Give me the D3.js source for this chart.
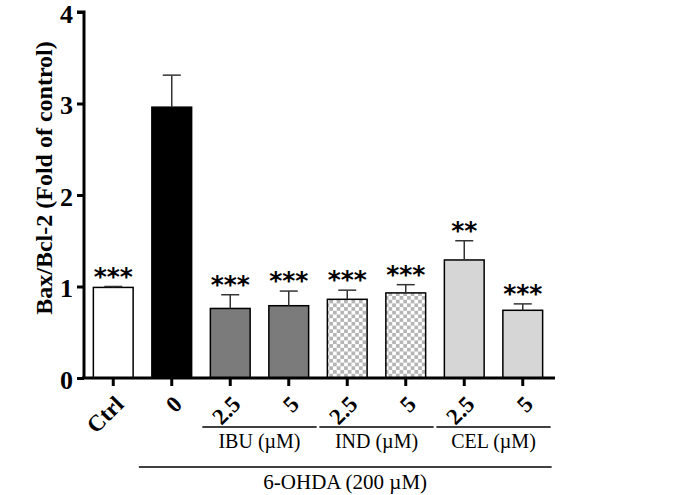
<!DOCTYPE html>
<html><head><meta charset="utf-8">
<script src="https://cdn.jsdelivr.net/npm/d3@7"></script>
<style>body{margin:0;background:#fff}</style>
</head><body>
<svg id="c" width="699" height="495"></svg>
<script>
const categories = ["Ctrl","0","2.5","5","2.5","5","2.5","5"];
const keys = ["ctrl","ohda","ibu25","ibu5","ind25","ind5","cel25","cel5"];
const means = [0.99, 2.96, 0.76, 0.79, 0.86, 0.93, 1.29, 0.74];
const errors = [0.01, 0.35, 0.15, 0.16, 0.10, 0.09, 0.21, 0.07];
const stars = ["***","","***","***","***","***","**","***"];
const fills = ["#ffffff","#000000","#7b7b7b","#7b7b7b","url(#chk)","url(#chk)","#d6d6d6","#d6d6d6"];
const yTicks = [0,1,2,3,4];
const groups = [{label:"IBU (\u00b5M)", from:2, to:3},{label:"IND (\u00b5M)", from:4, to:5},{label:"CEL (\u00b5M)", from:6, to:7}];
const treatment = {label:"6-OHDA (200 \u00b5M)", from:1, to:7};

const svg = d3.select("#c");
const defs = svg.append("defs");
const p = defs.append("pattern").attr("id","chk").attr("patternUnits","userSpaceOnUse").attr("width",7.4).attr("height",7.4);
p.append("rect").attr("width",7.4).attr("height",7.4).attr("fill","#ffffff");
p.append("rect").attr("width",3.7).attr("height",3.7).attr("fill","#b5b5b5");
p.append("rect").attr("x",3.7).attr("y",3.7).attr("width",3.7).attr("height",3.7).attr("fill","#b5b5b5");

const x0 = 84, x1 = 552, yBase = 378, yTop = 12;
const x = d3.scaleBand().domain(keys).range([x0, x1]).paddingInner(0.32).paddingOuter(0.16);
const y = d3.scaleLinear().domain([0,4]).range([yBase, yTop]);
const font = "'Liberation Serif','Times New Roman',serif";

const g = svg.append("g");
g.selectAll("rect.bar").data(keys).enter().append("rect")
  .attr("x", k => x(k)).attr("width", x.bandwidth())
  .attr("y", (k,i) => y(means[i])).attr("height", (k,i) => yBase - y(means[i]))
  .attr("fill", (k,i) => fills[i]).attr("stroke","#000").attr("stroke-width",1.5);
const cap = 9;
keys.forEach((k,i) => {
  const cx = x(k) + x.bandwidth()/2;
  g.append("line").attr("x1",cx).attr("x2",cx).attr("y1",y(means[i])).attr("y2",y(means[i]+errors[i]))
    .attr("stroke","#333").attr("stroke-width",1.5);
  g.append("line").attr("x1",cx-cap).attr("x2",cx+cap).attr("y1",y(means[i]+errors[i])).attr("y2",y(means[i]+errors[i]))
    .attr("stroke","#333").attr("stroke-width",1.5);
  if (stars[i]) g.append("text").attr("x",cx).attr("y",y(means[i]+errors[i]) - 2)
    .attr("text-anchor","middle").attr("font-family","'DejaVu Sans',Arial,sans-serif").attr("font-weight","bold")
    .attr("font-size",25).attr("fill","#000").text(stars[i]);
});

const yAxis = d3.axisLeft(y).tickValues(yTicks).tickSize(7).tickPadding(4).tickFormat(d3.format("d"));
const ya = svg.append("g").attr("transform",`translate(${x0},0)`).call(yAxis);
ya.select(".domain").attr("stroke-width",3).attr("d",`M-7,${yTop}H0V${yBase}`);
ya.selectAll(".tick line").attr("stroke-width",3);
ya.selectAll(".tick text").attr("font-family",font).attr("font-weight","bold").attr("font-size",26).attr("fill","#000").attr("dy","0.4em");

const xAxis = d3.axisBottom(x).tickSize(8).tickFormat((k,i) => categories[i]);
const xa = svg.append("g").attr("transform",`translate(0,${yBase})`).call(xAxis);
xa.select(".domain").attr("stroke-width",3).attr("d",`M${x0-2},0H555`);
xa.selectAll(".tick line").attr("stroke-width",3);
xa.selectAll(".tick text").attr("font-family",font).attr("font-weight","bold").attr("font-size",23).attr("fill","#000")
  .attr("text-anchor","end").attr("dy","0.35em").attr("transform","translate(6,22) rotate(-45)").attr("y",0);

const lineY = 427;
groups.forEach(gr => {
  const a = x(keys[gr.from]) - 8, b = x(keys[gr.to]) + x.bandwidth() + 8;
  svg.append("line").attr("x1",a).attr("x2",b).attr("y1",lineY).attr("y2",lineY).attr("stroke","#000").attr("stroke-width",1.5);
  svg.append("text").attr("x",(a+b)/2).attr("y",lineY+21).attr("text-anchor","middle")
    .attr("font-family",font).attr("font-size",20).attr("fill","#000").text(gr.label);
});
{
  const a = x(keys[treatment.from]) - 13, b = x(keys[treatment.to]) + x.bandwidth() + 9;
  svg.append("line").attr("x1",a).attr("x2",b).attr("y1",467).attr("y2",467).attr("stroke","#000").attr("stroke-width",1.5);
  svg.append("text").attr("x",(a+b)/2).attr("y",489).attr("text-anchor","middle")
    .attr("font-family",font).attr("font-size",21).attr("fill","#000").text(treatment.label);
}

svg.append("text").attr("transform",`translate(52,178) rotate(-90)`).attr("text-anchor","middle")
  .attr("font-family",font).attr("font-weight","bold").attr("font-size",24).attr("fill","#000")
  .text("Bax/Bcl-2 (Fold of control)");
</script>
</body></html>
